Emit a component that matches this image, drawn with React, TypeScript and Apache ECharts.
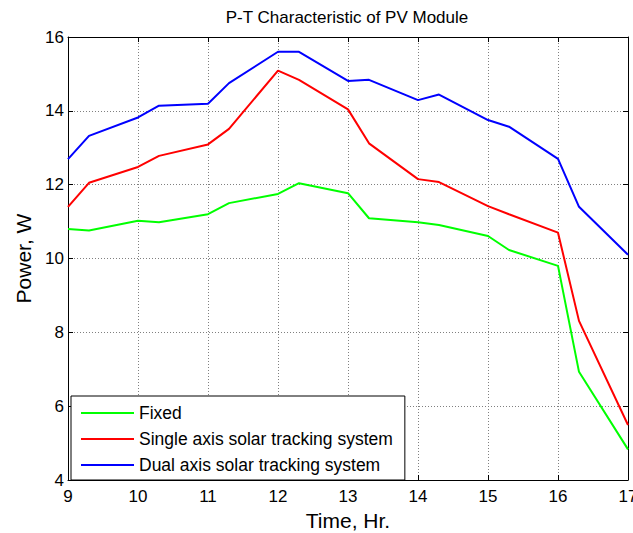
import React, { useEffect, useRef } from "react";
import * as echarts from "echarts";

const times = [9, 9.3, 10, 10.3, 11, 11.3, 12, 12.3, 13, 13.3, 14, 14.3, 15, 15.3, 16, 16.3, 17];
const fixed = [10.8, 10.76, 11.02, 10.98, 11.2, 11.5, 11.75, 12.04, 11.77, 11.09, 10.98, 10.91, 10.61, 10.23, 9.8, 6.93, 4.83];
const single = [11.4, 12.05, 12.48, 12.78, 13.09, 13.51, 15.09, 14.84, 14.04, 13.12, 12.15, 12.07, 11.42, 11.2, 10.7, 8.31, 5.49];
const dual = [12.69, 13.32, 13.82, 14.14, 14.19, 14.75, 15.6, 15.6, 14.81, 14.84, 14.29, 14.44, 13.75, 13.57, 12.7, 11.4, 10.1];

const seriesNames = ["Fixed", "Single axis solar tracking system", "Dual axis solar tracking system"];
const seriesColors = ["#00ff00", "#ff0000", "#0000ff"];
const seriesValues = [fixed, single, dual];

const FONT = "'Liberation Sans', Arial, Helvetica, sans-serif";

export default function App() {
  const ref = useRef<HTMLDivElement>(null);
  useEffect(() => {
    if (!ref.current) return;
    const chart = echarts.init(ref.current, null, { renderer: "svg" });
    const gridLine = { show: true, lineStyle: { color: "#808080", type: [1, 2], width: 1 } };
    const baseAxis = {
      type: "value" as const,
      axisLine: { show: true, onZero: false, lineStyle: { color: "#000", width: 1 } },
      axisTick: { show: true, inside: true, length: 5, lineStyle: { color: "#000" } },
    };
    chart.setOption({
      animation: false,
      backgroundColor: "#fff",
      title: {
        text: "P-T Characteristic of PV Module",
        left: 347,
        top: 9,
        textAlign: "center",
        padding: 0,
        textStyle: { fontFamily: FONT, fontSize: 17, fontWeight: "normal", color: "#000" },
      },
      legend: {
        orient: "vertical",
        left: 71,
        top: 396,
        padding: [8, 12, 6, 10],
        itemWidth: 53,
        itemHeight: 2,
        itemGap: 8,
        icon: "rect",
        borderColor: "#000",
        borderWidth: 1,
        backgroundColor: "#fff",
        textStyle: { fontFamily: FONT, fontSize: 17.5, color: "#000" },
        data: seriesNames,
      },
      grid: { left: 68, right: 5, top: 37, bottom: 53, containLabel: false, outerBoundsMode: "none" },
      xAxis: [
        {
          ...baseAxis,
          position: "bottom",
          min: 9,
          max: 17,
          interval: 1,
          name: "Time, Hr.",
          nameLocation: "middle",
          nameGap: 30,
          nameTextStyle: { fontFamily: FONT, fontSize: 21, color: "#000" },
          axisLabel: { fontFamily: FONT, fontSize: 17, color: "#000", margin: 8 },
          splitLine: gridLine,
        },
        {
          ...baseAxis,
          position: "top",
          min: 9,
          max: 17,
          interval: 1,
          axisLabel: { show: false },
          splitLine: { show: false },
        },
      ],
      yAxis: [
        {
          ...baseAxis,
          position: "left",
          min: 4,
          max: 16,
          interval: 2,
          name: "Power, W",
          nameLocation: "middle",
          nameGap: 33,
          nameTextStyle: { fontFamily: FONT, fontSize: 21, color: "#000" },
          axisLabel: { fontFamily: FONT, fontSize: 17, color: "#000", margin: 4 },
          splitLine: gridLine,
        },
        {
          ...baseAxis,
          position: "right",
          min: 4,
          max: 16,
          interval: 2,
          axisLabel: { show: false },
          splitLine: { show: false },
        },
      ],
      series: seriesNames.map((name, i) => ({
        name,
        type: "line",
        xAxisIndex: 0,
        yAxisIndex: 0,
        symbol: "none",
        color: seriesColors[i],
        lineStyle: { color: seriesColors[i], width: 2 },
        data: times.map((t, j) => [t, seriesValues[i][j]]),
      })),
    });
    return () => chart.dispose();
  }, []);
  return (
    <div
      ref={ref}
      style={{ position: "fixed", left: 0, top: 0, width: 633, height: 533, background: "#fff" }}
    />
  );
}
